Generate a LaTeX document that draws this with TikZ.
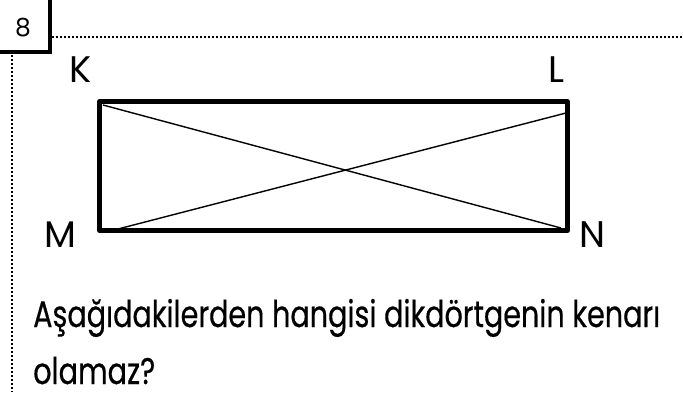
\documentclass[tikz,border=0pt]{standalone}
\usepackage{fontspec}
\setmainfont{Poppins}
\newfontfamily\qfont{Poppins}[FakeBold=0.5]
\usepackage{graphicx}
\tikzset{
  frame/.style={line width=4.5pt, line join=round},
  diag/.style={line width=1.4pt},
  dotline/.style={line width=2.4pt, dash pattern=on 2pt off 2pt},
  lbl/.style={anchor=base, inner sep=0pt, font=\fontsize{37}{44}\selectfont},
  txt/.style={anchor=base west, inner sep=0pt, font=\qfont\fontsize{37}{44}\selectfont},
}
\begin{document}
\begin{tikzpicture}[x=1pt, y=-1pt]
\useasboundingbox (0,0) rectangle (683,392);
% number box
\draw[line width=4pt] (-5,-5) rectangle (49.5,52);
\node[anchor=base, inner sep=0pt, font=\fontsize{25}{30}\selectfont] (num) at (23,36) {8};
% dotted guides
\coordinate (t1) at (52,37);
\coordinate (t2) at (683,37);
\coordinate (l1) at (12,55);
\coordinate (l2) at (12,392);
\draw[dotline] (t1) -- (t2);
\draw[dotline] (l1) -- (l2);
% rectangle
\coordinate (cK) at (99.5,101.5);
\coordinate (cL) at (567.5,101.5);
\coordinate (cM) at (99.5,230.5);
\coordinate (cN) at (567.5,230.5);
\draw[frame] (cK) -- (cL) -- (cN) -- (cM) -- cycle;
\coordinate (d1) at (103,105);
\coordinate (d2) at (561,228);
\coordinate (d3) at (118,229);
\coordinate (d4) at (566,113);
\draw[diag] (d1) -- (d2);
\draw[diag] (d3) -- (d4);
% labels
\node[lbl] (K) at (81,82) {K};
\node[lbl] (L) at (556.5,82) {L};
\node[lbl] (M) at (60.5,247) {M};
\node[lbl] (N) at (592,247) {N};
% question
\node[txt] (q1) at (33,327) {\resizebox{627pt}{\height}{Aşağıdakilerden hangisi dikdörtgenin kenarı}};
\node[txt] (q2) at (33,384) {\resizebox{122pt}{\height}{olamaz?}};
\end{tikzpicture}
\end{document}
